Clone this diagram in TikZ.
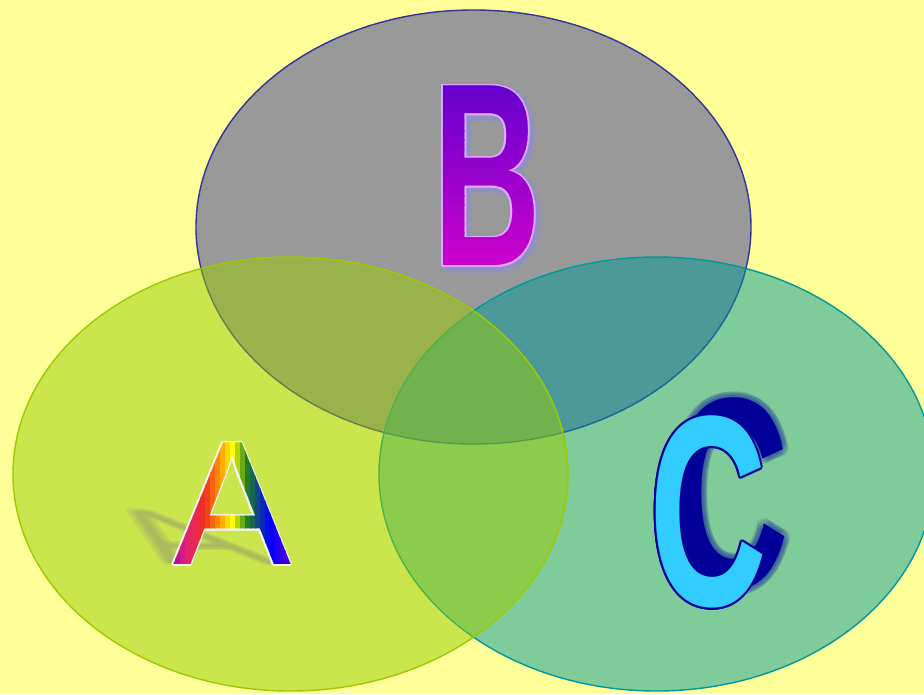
\documentclass[tikz,border=0pt]{standalone}
\usepackage{fontspec}
\setmainfont{Liberation Sans}
\newfontfamily\lettersans{Liberation Sans}
\usetikzlibrary{shapes.geometric,calc}

\definecolor{paper}{HTML}{FFFF99}
\definecolor{setgray}{HTML}{999999}
\definecolor{setnavy}{HTML}{333399}
\definecolor{setlime}{HTML}{99CC00}
\definecolor{setteal}{HTML}{009999}
\definecolor{violetA}{HTML}{9900AA}
\definecolor{magentaA}{HTML}{E0207A}
\definecolor{redA}{HTML}{F03020}
\definecolor{orangeA}{HTML}{FF9900}
\definecolor{yellowA}{HTML}{FFFF00}
\definecolor{greenA}{HTML}{208020}
\definecolor{blueA}{HTML}{0000FF}
\definecolor{purpleA}{HTML}{6600CC}
\definecolor{topB}{HTML}{6600CC}
\definecolor{bottomB}{HTML}{CC00CC}
\definecolor{rimB}{HTML}{DDAAFF}
\definecolor{glowB}{HTML}{8888FF}
\definecolor{fillC}{HTML}{33CCFF}
\definecolor{rimC}{HTML}{000099}

% the three letters, sized in px of the reference (1px = 0.03cm)
\newcommand\glyphA{{\lettersans\fontsize{151}{151}\selectfont A}}
\newcommand\glyphB{\scalebox{0.57}[1]{\lettersans\bfseries\fontsize{223}{223}\selectfont B}}
\newcommand\glyphC{\scalebox{0.6}[1]{\lettersans\bfseries\fontsize{232}{232}\selectfont C}}

\begin{document}
\begin{tikzpicture}[x=0.03cm,y=-0.03cm,
    set/.style={ellipse,inner sep=0pt,line width=1.2pt,
                minimum width=16.65cm,minimum height=13.02cm},
    letter/.style={inner sep=0pt,anchor=center}]
  \fill[paper] (0,0) rectangle (924,694);
  \useasboundingbox (0,0) rectangle (924,694);
  \clip (0,0) rectangle (924,694);

  % B lies underneath, C over it, A on top
  \node[set,draw=setnavy,fill=setgray] (setB) at (473.5,227) {};
  \node[set,draw=setteal,fill=setteal,fill opacity=0.5] (setC) at (656.5,474) {};
  \node[set,draw=setlime,fill=setlime,fill opacity=0.5] (setA) at (290.5,474) {};

  % A: soft slanted shadow, white rim, rainbow face in thin strips
  \begin{scope}[shift={(226,565)},xslant=-1.6,yscale=0.45]
    \foreach \a in {0,60,...,300}
      \node[inner sep=0pt,anchor=base,transform shape,text=gray,opacity=0.08]
        (shadowA\a) at (\a:4) {\glyphA};
  \end{scope}
  \foreach \a in {0,30,...,330}
    \node[letter,text=white!92!gray] (rimA\a) at ($(232,504)+(\a:1.6)$) {\glyphA};
  \foreach \c [count=\i from 0] in {violetA!83!magentaA,violetA!50!magentaA,
      violetA!17!magentaA,magentaA!88!redA,magentaA!63!redA,magentaA!38!redA,
      magentaA!12!redA,redA!83!orangeA,redA!50!orangeA,redA!17!orangeA,
      orangeA!80!yellowA,orangeA!40!yellowA,yellowA,yellowA!67!greenA,
      yellowA!33!greenA,greenA,greenA!78!blueA,greenA!56!blueA,greenA!33!blueA,
      greenA!11!blueA,blueA!90!purpleA,blueA!70!purpleA,blueA!50!purpleA,
      blueA!30!purpleA,blueA!10!purpleA} {
    \begin{scope}
      \clip (170+\i*5,430) rectangle +(5.4,150);
      \node[letter,text=\c] (letterA\i) at (232,504) {\glyphA};
    \end{scope}
  }

  % B: soft blue glow, pale rim, purple face in bands
  \foreach \a in {0,30,...,330}
    \node[letter,text=glowB,opacity=0.1] (glowB\a) at ($(490,179)+(\a:5)$) {\glyphB};
  \foreach \a in {0,30,...,330}
    \node[letter,text=rimB] (rimB\a) at ($(487,176)+(\a:1.8)$) {\glyphB};
  \foreach \i in {0,...,19} {
    \pgfmathsetmacro\p{\i*5.26}
    \begin{scope}
      \clip (420,84+\i*9.3) rectangle +(140,9.8);
      \node[letter,text=bottomB!\p!topB] (letterB\i) at (487,176) {\glyphB};
    \end{scope}
  }

  % C: blurred navy shadow up and right, navy rim, cyan face
  \foreach \a in {0,30,...,330}
    \node[letter,text=rimC,opacity=0.12] (blurC\a) at ($(730,494)+(\a:6)$) {\glyphC};
  \node[letter,text=rimC] (shadowC) at (730,494) {\glyphC};
  \foreach \a in {0,30,...,330}
    \node[letter,text=rimC] (rimC\a) at ($(708,512)+(\a:2)$) {\glyphC};
  \node[letter,text=fillC] (letterC) at (708,512) {\glyphC};
\end{tikzpicture}
\end{document}
